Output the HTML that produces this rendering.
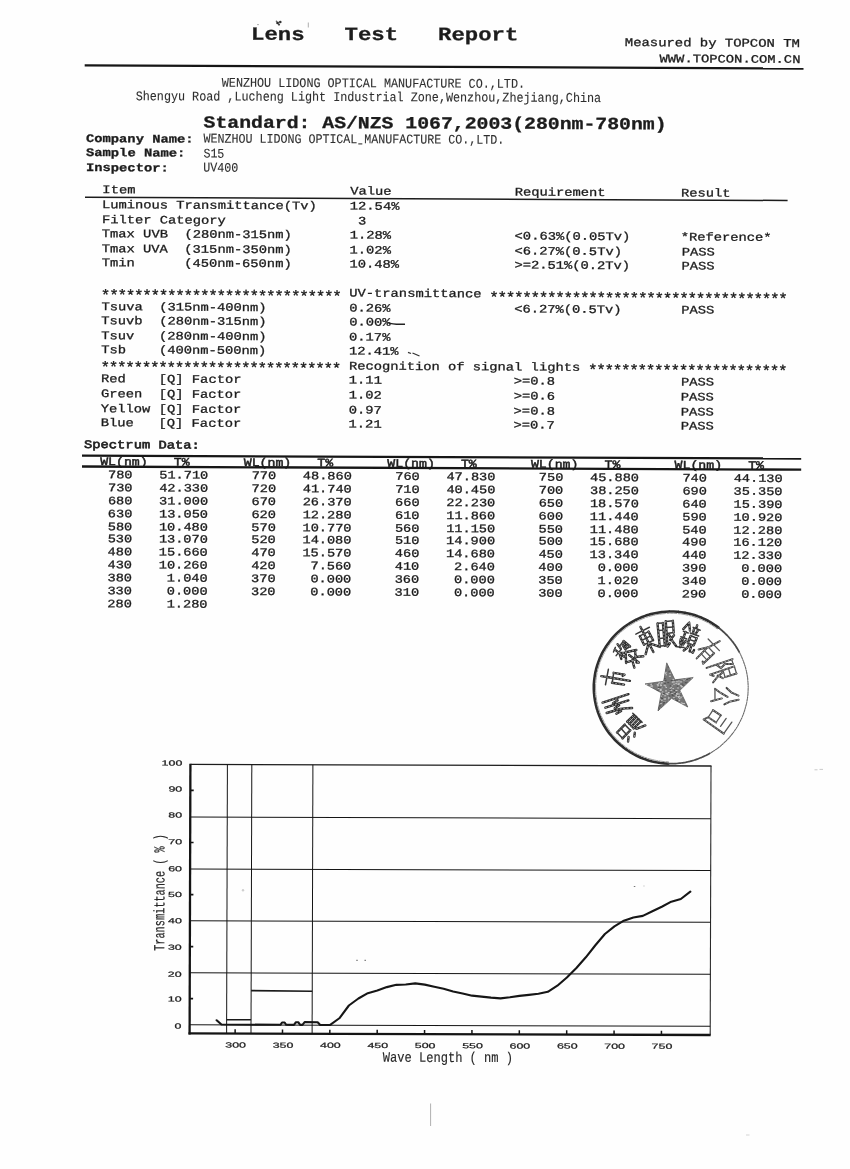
<!DOCTYPE html>
<html><head><meta charset="utf-8"><title>Lens Test Report</title>
<style>
html,body{margin:0;padding:0}
body{width:850px;height:1169px;position:relative;overflow:hidden;background:#fefefe;font-family:"Liberation Mono",monospace;color:#1c1c1c}
#page{position:absolute;left:0;top:0;width:850px;height:1169px;transform:rotate(0.0057rad);transform-origin:100.0px 400.0px}
.t{position:absolute;white-space:pre;line-height:20.0px;font-family:"Liberation Mono",monospace;-webkit-text-stroke:0.35px #1c1c1c}
svg{position:absolute;left:0;top:0}
#all{position:absolute;left:0;top:0;width:850px;height:1169px;filter:grayscale(1) blur(0.35px)}
#chartwrap{position:absolute;left:0;top:0;width:850px;height:1169px;transform:rotate(0.003rad);transform-origin:450px 900px}
</style></head><body>
<div id="all">
<div id="page">
<div class="t" style="left:248.52px;top:23.21px;font-size:22.27px;transform:rotate(-0.0042rad) scale(1.0,0.84);transform-origin:0 15.93px;font-weight:bold;">Lens   Test   Report</div>
<div class="t" style="left:622.80px;top:28.81px;font-size:13.9px;transform:scale(1.0,0.84);transform-origin:0 13.70px;">Measured by TOPCON TM</div>
<div class="t" style="left:657.58px;top:45.43px;font-size:13.82px;transform:scale(1.0,0.84);transform-origin:0 13.68px;">WWW.TOPCON.COM.CN</div>
<div class="t" style="left:219.82px;top:73.38px;font-size:11.75px;transform:rotate(-0.0018rad) scale(1.0,1.13);transform-origin:0 13.13px;-webkit-text-stroke:0.1px #2e2e2e;color:#2e2e2e;">WENZHOU LIDONG OPTICAL MANUFACTURE CO.,LTD.</div>
<div class="t" style="left:134.39px;top:86.86px;font-size:11.75px;transform:rotate(-0.0018rad) scale(1.0,1.13);transform-origin:0 13.13px;-webkit-text-stroke:0.1px #2e2e2e;color:#2e2e2e;">Shengyu Road ,Lucheng Light Industrial Zone,Wenzhou,Zhejiang,China</div>
<div class="t" style="left:201.56px;top:112.34px;font-size:19.8px;transform:rotate(-0.002rad) scale(1.0,0.86);transform-origin:0 15.27px;font-weight:bold;">Standard: AS/NZS 1067,2003(280nm-780nm)</div>
<div class="t" style="left:84.60px;top:128.71px;font-size:13.77px;transform:scale(1.0,0.84);transform-origin:0 13.66px;font-weight:bold;">Company Name:</div>
<div class="t" style="left:84.69px;top:143.41px;font-size:13.77px;transform:scale(1.0,0.84);transform-origin:0 13.66px;font-weight:bold;">Sample Name:</div>
<div class="t" style="left:84.77px;top:157.61px;font-size:13.77px;transform:scale(1.0,0.84);transform-origin:0 13.66px;font-weight:bold;">Inspector:</div>
<div class="t" style="left:202.33px;top:129.00px;font-size:11.67px;transform:rotate(-0.0018rad) scale(1.0,1.13);transform-origin:0 13.11px;-webkit-text-stroke:0.1px #2e2e2e;color:#2e2e2e;">WENZHOU LIDONG OPTICAL MANUFACTURE CO.,LTD.</div>
<div class="t" style="left:202.12px;top:143.90px;font-size:11.67px;transform:rotate(-0.0018rad) scale(1.0,1.13);transform-origin:0 13.11px;-webkit-text-stroke:0.1px #2e2e2e;color:#2e2e2e;">S15</div>
<div class="t" style="left:202.00px;top:158.30px;font-size:11.67px;transform:rotate(-0.0018rad) scale(1.0,1.13);transform-origin:0 13.11px;-webkit-text-stroke:0.1px #2e2e2e;color:#2e2e2e;">UV400</div>
<div class="t" style="left:101.20px;top:180.14px;font-size:13.77px;transform:scale(1.0,0.84);transform-origin:0 13.66px;">Item</div>
<div class="t" style="left:348.96px;top:180.14px;font-size:13.77px;transform:scale(1.0,0.84);transform-origin:0 13.66px;">Value</div>
<div class="t" style="left:513.60px;top:180.14px;font-size:13.77px;transform:scale(1.0,0.84);transform-origin:0 13.66px;">Requirement</div>
<div class="t" style="left:679.84px;top:180.14px;font-size:13.77px;transform:scale(1.0,0.84);transform-origin:0 13.66px;">Result</div>
<div class="t" style="left:100.90px;top:195.24px;font-size:13.77px;transform:scale(1.0,0.84);transform-origin:0 13.66px;">Luminous Transmittance(Tv)</div>
<div class="t" style="left:348.76px;top:195.24px;font-size:13.77px;transform:scale(1.0,0.84);transform-origin:0 13.66px;">12.54%</div>
<div class="t" style="left:100.90px;top:209.76px;font-size:13.77px;transform:scale(1.0,0.84);transform-origin:0 13.66px;">Filter Category</div>
<div class="t" style="left:348.76px;top:209.76px;font-size:13.77px;transform:scale(1.0,0.84);transform-origin:0 13.66px;"> 3</div>
<div class="t" style="left:100.90px;top:224.28px;font-size:13.77px;transform:scale(1.0,0.84);transform-origin:0 13.66px;">Tmax UVB  (280nm-315nm)</div>
<div class="t" style="left:348.76px;top:224.28px;font-size:13.77px;transform:scale(1.0,0.84);transform-origin:0 13.66px;">1.28%</div>
<div class="t" style="left:513.70px;top:224.28px;font-size:13.77px;transform:scale(1.0,0.84);transform-origin:0 13.66px;">&lt;0.63%(0.05Tv)</div>
<div class="t" style="left:679.84px;top:224.28px;font-size:13.77px;transform:scale(1.0,0.84);transform-origin:0 13.66px;">*Reference*</div>
<div class="t" style="left:100.90px;top:238.80px;font-size:13.77px;transform:scale(1.0,0.84);transform-origin:0 13.66px;">Tmax UVA  (315nm-350nm)</div>
<div class="t" style="left:348.76px;top:238.80px;font-size:13.77px;transform:scale(1.0,0.84);transform-origin:0 13.66px;">1.02%</div>
<div class="t" style="left:513.70px;top:238.80px;font-size:13.77px;transform:scale(1.0,0.84);transform-origin:0 13.66px;">&lt;6.27%(0.5Tv)</div>
<div class="t" style="left:680.84px;top:238.80px;font-size:13.77px;transform:scale(1.0,0.84);transform-origin:0 13.66px;">PASS</div>
<div class="t" style="left:100.90px;top:253.32px;font-size:13.77px;transform:scale(1.0,0.84);transform-origin:0 13.66px;">Tmin      (450nm-650nm)</div>
<div class="t" style="left:348.76px;top:253.32px;font-size:13.77px;transform:scale(1.0,0.84);transform-origin:0 13.66px;">10.48%</div>
<div class="t" style="left:513.70px;top:253.32px;font-size:13.77px;transform:scale(1.0,0.84);transform-origin:0 13.66px;">&gt;=2.51%(0.2Tv)</div>
<div class="t" style="left:680.84px;top:253.32px;font-size:13.77px;transform:scale(1.0,0.84);transform-origin:0 13.66px;">PASS</div>
<div class="t" style="left:100.90px;top:282.36px;font-size:13.77px;transform:scale(1.0,0.84);transform-origin:0 13.66px;">                              UV-transmittance </div>
<div class="t" style="left:100.90px;top:296.88px;font-size:13.77px;transform:scale(1.0,0.84);transform-origin:0 13.66px;">Tsuva  (315nm-400nm)</div>
<div class="t" style="left:348.76px;top:296.88px;font-size:13.77px;transform:scale(1.0,0.84);transform-origin:0 13.66px;">0.26%</div>
<div class="t" style="left:513.70px;top:296.88px;font-size:13.77px;transform:scale(1.0,0.84);transform-origin:0 13.66px;">&lt;6.27%(0.5Tv)</div>
<div class="t" style="left:680.84px;top:296.88px;font-size:13.77px;transform:scale(1.0,0.84);transform-origin:0 13.66px;">PASS</div>
<div class="t" style="left:100.90px;top:311.40px;font-size:13.77px;transform:scale(1.0,0.84);transform-origin:0 13.66px;">Tsuvb  (280nm-315nm)</div>
<div class="t" style="left:348.76px;top:311.40px;font-size:13.77px;transform:scale(1.0,0.84);transform-origin:0 13.66px;">0.00%</div>
<div class="t" style="left:100.90px;top:325.92px;font-size:13.77px;transform:scale(1.0,0.84);transform-origin:0 13.66px;">Tsuv   (280nm-400nm)</div>
<div class="t" style="left:348.76px;top:325.92px;font-size:13.77px;transform:scale(1.0,0.84);transform-origin:0 13.66px;">0.17%</div>
<div class="t" style="left:100.90px;top:340.44px;font-size:13.77px;transform:scale(1.0,0.84);transform-origin:0 13.66px;">Tsb    (400nm-500nm)</div>
<div class="t" style="left:348.76px;top:340.44px;font-size:13.77px;transform:scale(1.0,0.84);transform-origin:0 13.66px;">12.41%</div>
<div class="t" style="left:100.90px;top:354.96px;font-size:13.77px;transform:scale(1.0,0.84);transform-origin:0 13.66px;">                              Recognition of signal lights </div>
<div class="t" style="left:100.90px;top:369.48px;font-size:13.77px;transform:scale(1.0,0.84);transform-origin:0 13.66px;">Red    [Q] Factor</div>
<div class="t" style="left:348.76px;top:369.48px;font-size:13.77px;transform:scale(1.0,0.84);transform-origin:0 13.66px;">1.11</div>
<div class="t" style="left:513.70px;top:369.48px;font-size:13.77px;transform:scale(1.0,0.84);transform-origin:0 13.66px;">&gt;=0.8</div>
<div class="t" style="left:680.84px;top:369.48px;font-size:13.77px;transform:scale(1.0,0.84);transform-origin:0 13.66px;">PASS</div>
<div class="t" style="left:100.90px;top:384.00px;font-size:13.77px;transform:scale(1.0,0.84);transform-origin:0 13.66px;">Green  [Q] Factor</div>
<div class="t" style="left:348.76px;top:384.00px;font-size:13.77px;transform:scale(1.0,0.84);transform-origin:0 13.66px;">1.02</div>
<div class="t" style="left:513.70px;top:384.00px;font-size:13.77px;transform:scale(1.0,0.84);transform-origin:0 13.66px;">&gt;=0.6</div>
<div class="t" style="left:680.84px;top:384.00px;font-size:13.77px;transform:scale(1.0,0.84);transform-origin:0 13.66px;">PASS</div>
<div class="t" style="left:100.90px;top:398.52px;font-size:13.77px;transform:scale(1.0,0.84);transform-origin:0 13.66px;">Yellow [Q] Factor</div>
<div class="t" style="left:348.76px;top:398.52px;font-size:13.77px;transform:scale(1.0,0.84);transform-origin:0 13.66px;">0.97</div>
<div class="t" style="left:513.70px;top:398.52px;font-size:13.77px;transform:scale(1.0,0.84);transform-origin:0 13.66px;">&gt;=0.8</div>
<div class="t" style="left:680.84px;top:398.52px;font-size:13.77px;transform:scale(1.0,0.84);transform-origin:0 13.66px;">PASS</div>
<div class="t" style="left:100.90px;top:413.04px;font-size:13.77px;transform:scale(1.0,0.84);transform-origin:0 13.66px;">Blue   [Q] Factor</div>
<div class="t" style="left:348.76px;top:413.04px;font-size:13.77px;transform:scale(1.0,0.84);transform-origin:0 13.66px;">1.21</div>
<div class="t" style="left:513.70px;top:413.04px;font-size:13.77px;transform:scale(1.0,0.84);transform-origin:0 13.66px;">&gt;=0.7</div>
<div class="t" style="left:680.84px;top:413.04px;font-size:13.77px;transform:scale(1.0,0.84);transform-origin:0 13.66px;">PASS</div>
<div class="t" style="left:100.30px;top:285.82px;font-size:15.8px;transform:scale(1.0,0.955);transform-origin:0 14.20px;letter-spacing:-1.218px;">*****************************</div>
<div class="t" style="left:488.61px;top:285.82px;font-size:15.8px;transform:scale(1.0,0.955);transform-origin:0 14.20px;letter-spacing:-1.218px;">************************************</div>
<div class="t" style="left:100.30px;top:358.42px;font-size:15.8px;transform:scale(1.0,0.955);transform-origin:0 14.20px;letter-spacing:-1.218px;">*****************************</div>
<div class="t" style="left:587.76px;top:358.42px;font-size:15.8px;transform:scale(1.0,0.955);transform-origin:0 14.20px;letter-spacing:-1.218px;">************************</div>
<div class="t" style="left:84.35px;top:434.72px;font-size:13.77px;transform:scale(1.0,0.84);transform-origin:0 13.66px;-webkit-text-stroke:0.7px #1c1c1c;">Spectrum Data:</div>
<div class="t" style="left:100.54px;top:451.79px;font-size:13.2px;transform:scale(1.0,0.86);transform-origin:0 13.51px;-webkit-text-stroke:0.55px #1c1c1c;">WL(nm)</div>
<div class="t" style="left:174.14px;top:451.79px;font-size:13.2px;transform:scale(1.0,0.86);transform-origin:0 13.51px;-webkit-text-stroke:0.55px #1c1c1c;">T%</div>
<div class="t" style="left:244.14px;top:451.79px;font-size:13.2px;transform:scale(1.0,0.86);transform-origin:0 13.51px;-webkit-text-stroke:0.55px #1c1c1c;">WL(nm)</div>
<div class="t" style="left:317.74px;top:451.79px;font-size:13.2px;transform:scale(1.0,0.86);transform-origin:0 13.51px;-webkit-text-stroke:0.55px #1c1c1c;">T%</div>
<div class="t" style="left:387.74px;top:451.79px;font-size:13.2px;transform:scale(1.0,0.86);transform-origin:0 13.51px;-webkit-text-stroke:0.55px #1c1c1c;">WL(nm)</div>
<div class="t" style="left:461.34px;top:451.79px;font-size:13.2px;transform:scale(1.0,0.86);transform-origin:0 13.51px;-webkit-text-stroke:0.55px #1c1c1c;">T%</div>
<div class="t" style="left:531.34px;top:451.79px;font-size:13.2px;transform:scale(1.0,0.86);transform-origin:0 13.51px;-webkit-text-stroke:0.55px #1c1c1c;">WL(nm)</div>
<div class="t" style="left:604.94px;top:451.79px;font-size:13.2px;transform:scale(1.0,0.86);transform-origin:0 13.51px;-webkit-text-stroke:0.55px #1c1c1c;">T%</div>
<div class="t" style="left:674.94px;top:451.79px;font-size:13.2px;transform:scale(1.0,0.86);transform-origin:0 13.51px;-webkit-text-stroke:0.55px #1c1c1c;">WL(nm)</div>
<div class="t" style="left:748.54px;top:451.79px;font-size:13.2px;transform:scale(1.0,0.86);transform-origin:0 13.51px;-webkit-text-stroke:0.55px #1c1c1c;">T%</div>
<div class="t" style="left:108.51px;top:465.08px;font-size:13.6px;transform:scale(1.0,0.84);transform-origin:0 13.62px;">780</div>
<div class="t" style="left:159.71px;top:465.08px;font-size:13.6px;transform:scale(1.0,0.84);transform-origin:0 13.62px;">51.710</div>
<div class="t" style="left:252.11px;top:465.08px;font-size:13.6px;transform:scale(1.0,0.84);transform-origin:0 13.62px;">770</div>
<div class="t" style="left:303.31px;top:465.08px;font-size:13.6px;transform:scale(1.0,0.84);transform-origin:0 13.62px;">48.860</div>
<div class="t" style="left:395.71px;top:465.08px;font-size:13.6px;transform:scale(1.0,0.84);transform-origin:0 13.62px;">760</div>
<div class="t" style="left:446.91px;top:465.08px;font-size:13.6px;transform:scale(1.0,0.84);transform-origin:0 13.62px;">47.830</div>
<div class="t" style="left:539.31px;top:465.08px;font-size:13.6px;transform:scale(1.0,0.84);transform-origin:0 13.62px;">750</div>
<div class="t" style="left:590.51px;top:465.08px;font-size:13.6px;transform:scale(1.0,0.84);transform-origin:0 13.62px;">45.880</div>
<div class="t" style="left:682.91px;top:465.08px;font-size:13.6px;transform:scale(1.0,0.84);transform-origin:0 13.62px;">740</div>
<div class="t" style="left:734.11px;top:465.08px;font-size:13.6px;transform:scale(1.0,0.84);transform-origin:0 13.62px;">44.130</div>
<div class="t" style="left:108.51px;top:477.96px;font-size:13.6px;transform:scale(1.0,0.84);transform-origin:0 13.62px;">730</div>
<div class="t" style="left:159.71px;top:477.96px;font-size:13.6px;transform:scale(1.0,0.84);transform-origin:0 13.62px;">42.330</div>
<div class="t" style="left:252.11px;top:477.96px;font-size:13.6px;transform:scale(1.0,0.84);transform-origin:0 13.62px;">720</div>
<div class="t" style="left:303.31px;top:477.96px;font-size:13.6px;transform:scale(1.0,0.84);transform-origin:0 13.62px;">41.740</div>
<div class="t" style="left:395.71px;top:477.96px;font-size:13.6px;transform:scale(1.0,0.84);transform-origin:0 13.62px;">710</div>
<div class="t" style="left:446.91px;top:477.96px;font-size:13.6px;transform:scale(1.0,0.84);transform-origin:0 13.62px;">40.450</div>
<div class="t" style="left:539.31px;top:477.96px;font-size:13.6px;transform:scale(1.0,0.84);transform-origin:0 13.62px;">700</div>
<div class="t" style="left:590.51px;top:477.96px;font-size:13.6px;transform:scale(1.0,0.84);transform-origin:0 13.62px;">38.250</div>
<div class="t" style="left:682.91px;top:477.96px;font-size:13.6px;transform:scale(1.0,0.84);transform-origin:0 13.62px;">690</div>
<div class="t" style="left:734.11px;top:477.96px;font-size:13.6px;transform:scale(1.0,0.84);transform-origin:0 13.62px;">35.350</div>
<div class="t" style="left:108.51px;top:490.84px;font-size:13.6px;transform:scale(1.0,0.84);transform-origin:0 13.62px;">680</div>
<div class="t" style="left:159.71px;top:490.84px;font-size:13.6px;transform:scale(1.0,0.84);transform-origin:0 13.62px;">31.000</div>
<div class="t" style="left:252.11px;top:490.84px;font-size:13.6px;transform:scale(1.0,0.84);transform-origin:0 13.62px;">670</div>
<div class="t" style="left:303.31px;top:490.84px;font-size:13.6px;transform:scale(1.0,0.84);transform-origin:0 13.62px;">26.370</div>
<div class="t" style="left:395.71px;top:490.84px;font-size:13.6px;transform:scale(1.0,0.84);transform-origin:0 13.62px;">660</div>
<div class="t" style="left:446.91px;top:490.84px;font-size:13.6px;transform:scale(1.0,0.84);transform-origin:0 13.62px;">22.230</div>
<div class="t" style="left:539.31px;top:490.84px;font-size:13.6px;transform:scale(1.0,0.84);transform-origin:0 13.62px;">650</div>
<div class="t" style="left:590.51px;top:490.84px;font-size:13.6px;transform:scale(1.0,0.84);transform-origin:0 13.62px;">18.570</div>
<div class="t" style="left:682.91px;top:490.84px;font-size:13.6px;transform:scale(1.0,0.84);transform-origin:0 13.62px;">640</div>
<div class="t" style="left:734.11px;top:490.84px;font-size:13.6px;transform:scale(1.0,0.84);transform-origin:0 13.62px;">15.390</div>
<div class="t" style="left:108.51px;top:503.72px;font-size:13.6px;transform:scale(1.0,0.84);transform-origin:0 13.62px;">630</div>
<div class="t" style="left:159.71px;top:503.72px;font-size:13.6px;transform:scale(1.0,0.84);transform-origin:0 13.62px;">13.050</div>
<div class="t" style="left:252.11px;top:503.72px;font-size:13.6px;transform:scale(1.0,0.84);transform-origin:0 13.62px;">620</div>
<div class="t" style="left:303.31px;top:503.72px;font-size:13.6px;transform:scale(1.0,0.84);transform-origin:0 13.62px;">12.280</div>
<div class="t" style="left:395.71px;top:503.72px;font-size:13.6px;transform:scale(1.0,0.84);transform-origin:0 13.62px;">610</div>
<div class="t" style="left:446.91px;top:503.72px;font-size:13.6px;transform:scale(1.0,0.84);transform-origin:0 13.62px;">11.860</div>
<div class="t" style="left:539.31px;top:503.72px;font-size:13.6px;transform:scale(1.0,0.84);transform-origin:0 13.62px;">600</div>
<div class="t" style="left:590.51px;top:503.72px;font-size:13.6px;transform:scale(1.0,0.84);transform-origin:0 13.62px;">11.440</div>
<div class="t" style="left:682.91px;top:503.72px;font-size:13.6px;transform:scale(1.0,0.84);transform-origin:0 13.62px;">590</div>
<div class="t" style="left:734.11px;top:503.72px;font-size:13.6px;transform:scale(1.0,0.84);transform-origin:0 13.62px;">10.920</div>
<div class="t" style="left:108.51px;top:516.60px;font-size:13.6px;transform:scale(1.0,0.84);transform-origin:0 13.62px;">580</div>
<div class="t" style="left:159.71px;top:516.60px;font-size:13.6px;transform:scale(1.0,0.84);transform-origin:0 13.62px;">10.480</div>
<div class="t" style="left:252.11px;top:516.60px;font-size:13.6px;transform:scale(1.0,0.84);transform-origin:0 13.62px;">570</div>
<div class="t" style="left:303.31px;top:516.60px;font-size:13.6px;transform:scale(1.0,0.84);transform-origin:0 13.62px;">10.770</div>
<div class="t" style="left:395.71px;top:516.60px;font-size:13.6px;transform:scale(1.0,0.84);transform-origin:0 13.62px;">560</div>
<div class="t" style="left:446.91px;top:516.60px;font-size:13.6px;transform:scale(1.0,0.84);transform-origin:0 13.62px;">11.150</div>
<div class="t" style="left:539.31px;top:516.60px;font-size:13.6px;transform:scale(1.0,0.84);transform-origin:0 13.62px;">550</div>
<div class="t" style="left:590.51px;top:516.60px;font-size:13.6px;transform:scale(1.0,0.84);transform-origin:0 13.62px;">11.480</div>
<div class="t" style="left:682.91px;top:516.60px;font-size:13.6px;transform:scale(1.0,0.84);transform-origin:0 13.62px;">540</div>
<div class="t" style="left:734.11px;top:516.60px;font-size:13.6px;transform:scale(1.0,0.84);transform-origin:0 13.62px;">12.280</div>
<div class="t" style="left:108.51px;top:529.48px;font-size:13.6px;transform:scale(1.0,0.84);transform-origin:0 13.62px;">530</div>
<div class="t" style="left:159.71px;top:529.48px;font-size:13.6px;transform:scale(1.0,0.84);transform-origin:0 13.62px;">13.070</div>
<div class="t" style="left:252.11px;top:529.48px;font-size:13.6px;transform:scale(1.0,0.84);transform-origin:0 13.62px;">520</div>
<div class="t" style="left:303.31px;top:529.48px;font-size:13.6px;transform:scale(1.0,0.84);transform-origin:0 13.62px;">14.080</div>
<div class="t" style="left:395.71px;top:529.48px;font-size:13.6px;transform:scale(1.0,0.84);transform-origin:0 13.62px;">510</div>
<div class="t" style="left:446.91px;top:529.48px;font-size:13.6px;transform:scale(1.0,0.84);transform-origin:0 13.62px;">14.900</div>
<div class="t" style="left:539.31px;top:529.48px;font-size:13.6px;transform:scale(1.0,0.84);transform-origin:0 13.62px;">500</div>
<div class="t" style="left:590.51px;top:529.48px;font-size:13.6px;transform:scale(1.0,0.84);transform-origin:0 13.62px;">15.680</div>
<div class="t" style="left:682.91px;top:529.48px;font-size:13.6px;transform:scale(1.0,0.84);transform-origin:0 13.62px;">490</div>
<div class="t" style="left:734.11px;top:529.48px;font-size:13.6px;transform:scale(1.0,0.84);transform-origin:0 13.62px;">16.120</div>
<div class="t" style="left:108.51px;top:542.36px;font-size:13.6px;transform:scale(1.0,0.84);transform-origin:0 13.62px;">480</div>
<div class="t" style="left:159.71px;top:542.36px;font-size:13.6px;transform:scale(1.0,0.84);transform-origin:0 13.62px;">15.660</div>
<div class="t" style="left:252.11px;top:542.36px;font-size:13.6px;transform:scale(1.0,0.84);transform-origin:0 13.62px;">470</div>
<div class="t" style="left:303.31px;top:542.36px;font-size:13.6px;transform:scale(1.0,0.84);transform-origin:0 13.62px;">15.570</div>
<div class="t" style="left:395.71px;top:542.36px;font-size:13.6px;transform:scale(1.0,0.84);transform-origin:0 13.62px;">460</div>
<div class="t" style="left:446.91px;top:542.36px;font-size:13.6px;transform:scale(1.0,0.84);transform-origin:0 13.62px;">14.680</div>
<div class="t" style="left:539.31px;top:542.36px;font-size:13.6px;transform:scale(1.0,0.84);transform-origin:0 13.62px;">450</div>
<div class="t" style="left:590.51px;top:542.36px;font-size:13.6px;transform:scale(1.0,0.84);transform-origin:0 13.62px;">13.340</div>
<div class="t" style="left:682.91px;top:542.36px;font-size:13.6px;transform:scale(1.0,0.84);transform-origin:0 13.62px;">440</div>
<div class="t" style="left:734.11px;top:542.36px;font-size:13.6px;transform:scale(1.0,0.84);transform-origin:0 13.62px;">12.330</div>
<div class="t" style="left:108.51px;top:555.24px;font-size:13.6px;transform:scale(1.0,0.84);transform-origin:0 13.62px;">430</div>
<div class="t" style="left:159.71px;top:555.24px;font-size:13.6px;transform:scale(1.0,0.84);transform-origin:0 13.62px;">10.260</div>
<div class="t" style="left:252.11px;top:555.24px;font-size:13.6px;transform:scale(1.0,0.84);transform-origin:0 13.62px;">420</div>
<div class="t" style="left:303.31px;top:555.24px;font-size:13.6px;transform:scale(1.0,0.84);transform-origin:0 13.62px;"> 7.560</div>
<div class="t" style="left:395.71px;top:555.24px;font-size:13.6px;transform:scale(1.0,0.84);transform-origin:0 13.62px;">410</div>
<div class="t" style="left:446.91px;top:555.24px;font-size:13.6px;transform:scale(1.0,0.84);transform-origin:0 13.62px;"> 2.640</div>
<div class="t" style="left:539.31px;top:555.24px;font-size:13.6px;transform:scale(1.0,0.84);transform-origin:0 13.62px;">400</div>
<div class="t" style="left:590.51px;top:555.24px;font-size:13.6px;transform:scale(1.0,0.84);transform-origin:0 13.62px;"> 0.000</div>
<div class="t" style="left:682.91px;top:555.24px;font-size:13.6px;transform:scale(1.0,0.84);transform-origin:0 13.62px;">390</div>
<div class="t" style="left:734.11px;top:555.24px;font-size:13.6px;transform:scale(1.0,0.84);transform-origin:0 13.62px;"> 0.000</div>
<div class="t" style="left:108.51px;top:568.12px;font-size:13.6px;transform:scale(1.0,0.84);transform-origin:0 13.62px;">380</div>
<div class="t" style="left:159.71px;top:568.12px;font-size:13.6px;transform:scale(1.0,0.84);transform-origin:0 13.62px;"> 1.040</div>
<div class="t" style="left:252.11px;top:568.12px;font-size:13.6px;transform:scale(1.0,0.84);transform-origin:0 13.62px;">370</div>
<div class="t" style="left:303.31px;top:568.12px;font-size:13.6px;transform:scale(1.0,0.84);transform-origin:0 13.62px;"> 0.000</div>
<div class="t" style="left:395.71px;top:568.12px;font-size:13.6px;transform:scale(1.0,0.84);transform-origin:0 13.62px;">360</div>
<div class="t" style="left:446.91px;top:568.12px;font-size:13.6px;transform:scale(1.0,0.84);transform-origin:0 13.62px;"> 0.000</div>
<div class="t" style="left:539.31px;top:568.12px;font-size:13.6px;transform:scale(1.0,0.84);transform-origin:0 13.62px;">350</div>
<div class="t" style="left:590.51px;top:568.12px;font-size:13.6px;transform:scale(1.0,0.84);transform-origin:0 13.62px;"> 1.020</div>
<div class="t" style="left:682.91px;top:568.12px;font-size:13.6px;transform:scale(1.0,0.84);transform-origin:0 13.62px;">340</div>
<div class="t" style="left:734.11px;top:568.12px;font-size:13.6px;transform:scale(1.0,0.84);transform-origin:0 13.62px;"> 0.000</div>
<div class="t" style="left:108.51px;top:581.00px;font-size:13.6px;transform:scale(1.0,0.84);transform-origin:0 13.62px;">330</div>
<div class="t" style="left:159.71px;top:581.00px;font-size:13.6px;transform:scale(1.0,0.84);transform-origin:0 13.62px;"> 0.000</div>
<div class="t" style="left:252.11px;top:581.00px;font-size:13.6px;transform:scale(1.0,0.84);transform-origin:0 13.62px;">320</div>
<div class="t" style="left:303.31px;top:581.00px;font-size:13.6px;transform:scale(1.0,0.84);transform-origin:0 13.62px;"> 0.000</div>
<div class="t" style="left:395.71px;top:581.00px;font-size:13.6px;transform:scale(1.0,0.84);transform-origin:0 13.62px;">310</div>
<div class="t" style="left:446.91px;top:581.00px;font-size:13.6px;transform:scale(1.0,0.84);transform-origin:0 13.62px;"> 0.000</div>
<div class="t" style="left:539.31px;top:581.00px;font-size:13.6px;transform:scale(1.0,0.84);transform-origin:0 13.62px;">300</div>
<div class="t" style="left:590.51px;top:581.00px;font-size:13.6px;transform:scale(1.0,0.84);transform-origin:0 13.62px;"> 0.000</div>
<div class="t" style="left:682.91px;top:581.00px;font-size:13.6px;transform:scale(1.0,0.84);transform-origin:0 13.62px;">290</div>
<div class="t" style="left:734.11px;top:581.00px;font-size:13.6px;transform:scale(1.0,0.84);transform-origin:0 13.62px;"> 0.000</div>
<div class="t" style="left:108.51px;top:593.88px;font-size:13.6px;transform:scale(1.0,0.84);transform-origin:0 13.62px;">280</div>
<div class="t" style="left:159.71px;top:593.88px;font-size:13.6px;transform:scale(1.0,0.84);transform-origin:0 13.62px;"> 1.280</div>
</div>
<svg width="850" height="1169" viewBox="0 0 850 1169">

<line x1="84.7" y1="65.3" x2="803.5" y2="68.5" stroke="#161616" stroke-width="2.3"/>
<line x1="85" y1="197.3" x2="787.6" y2="200.5" stroke="#1c1c1c" stroke-width="1.5"/>
<line x1="82" y1="455.6" x2="801.2" y2="458.5" stroke="#161616" stroke-width="2.3"/>
<line x1="82" y1="466.5" x2="801.2" y2="469.7" stroke="#161616" stroke-width="2.3"/>
<path d="M387.5 322.6 q6 2.2 17.5 1.6" stroke="#222" stroke-width="1.5" fill="none"/>
<path d="M408 352.3 l3 1.2 M412.5 353 l7 3" stroke="#333" stroke-width="1.3" fill="none"/>
<path d="M358.3 143.9 h4.0" stroke="#333" stroke-width="1.1" fill="none"/>
<circle cx="277.6" cy="22.9" r="1.4" fill="#2a2a2a"/><circle cx="280.3" cy="22.0" r="1.3" fill="#333"/><circle cx="279.0" cy="24.6" r="1.1" fill="#444"/><circle cx="276.4" cy="21.2" r="0.7" fill="#555"/>
<circle cx="258" cy="24.6" r="0.6" fill="#666"/>
<path d="M430.6 1103.5 V1126" stroke="#b0b0b0" stroke-width="1"/>
<path d="M814.5 769.8 h3 m2 -0.4 h3.5" stroke="#c4c4c4" stroke-width="0.9"/>
<path d="M746 1135 h3.5" stroke="#d0d0d0" stroke-width="0.9"/>
<path d="M356.3 960.4 h1.4 m6.8 0 h1.4 M633.8 886.5 h1.5" stroke="#777" stroke-width="1.2"/><path d="M643.2 886 h1.5" stroke="#ccc" stroke-width="1.2"/>
<circle cx="243" cy="890.3" r="1.2" fill="#cfcfcf"/>
<path d="M308.3 22.5 v5" stroke="#999" stroke-width="0.8"/>

</svg>
<div id="chartwrap">
<svg width="850" height="1169" viewBox="0 0 850 1169">
<line x1="190.0" y1="764.6" x2="190.0" y2="1035.3" stroke="#141414" stroke-width="2.3"/>
<line x1="188.9" y1="1034.2" x2="711.1" y2="1034.2" stroke="#141414" stroke-width="2.4"/>
<line x1="190.0" y1="765.2" x2="711.1" y2="765.2" stroke="#1c1c1c" stroke-width="1.4"/>
<line x1="710.6" y1="765.2" x2="710.6" y2="1034.2" stroke="#2a2a2a" stroke-width="1.1"/>
<line x1="190.0" y1="1025.50" x2="710.6" y2="1025.50" stroke="#151515" stroke-width="1.0"/>
<line x1="190.0" y1="973.54" x2="710.6" y2="973.54" stroke="#151515" stroke-width="1.0"/>
<line x1="190.0" y1="921.58" x2="710.6" y2="921.58" stroke="#151515" stroke-width="1.0"/>
<line x1="190.0" y1="869.82" x2="710.6" y2="869.82" stroke="#151515" stroke-width="1.0"/>
<line x1="190.0" y1="817.86" x2="710.6" y2="817.86" stroke="#151515" stroke-width="1.0"/>
<line x1="190.0" y1="999.47" x2="193.4" y2="999.47" stroke="#141414" stroke-width="1.7"/>
<line x1="190.0" y1="947.41" x2="193.4" y2="947.41" stroke="#141414" stroke-width="1.7"/>
<line x1="190.0" y1="895.35" x2="193.4" y2="895.35" stroke="#141414" stroke-width="1.7"/>
<line x1="190.0" y1="843.29" x2="193.4" y2="843.29" stroke="#141414" stroke-width="1.7"/>
<line x1="190.0" y1="791.23" x2="193.4" y2="791.23" stroke="#141414" stroke-width="1.7"/>
<line x1="227.0" y1="765.2" x2="227.0" y2="1034.2" stroke="#151515" stroke-width="1.0"/>
<line x1="251.4" y1="765.2" x2="251.4" y2="1034.2" stroke="#151515" stroke-width="1.0"/>
<line x1="312.5" y1="765.2" x2="312.5" y2="1034.2" stroke="#151515" stroke-width="1.0"/>
<line x1="235.50" y1="1030.0" x2="235.50" y2="1034.2" stroke="#141414" stroke-width="1.5"/>
<line x1="282.87" y1="1030.0" x2="282.87" y2="1034.2" stroke="#141414" stroke-width="1.5"/>
<line x1="330.24" y1="1030.0" x2="330.24" y2="1034.2" stroke="#141414" stroke-width="1.5"/>
<line x1="377.61" y1="1030.0" x2="377.61" y2="1034.2" stroke="#141414" stroke-width="1.5"/>
<line x1="424.98" y1="1030.0" x2="424.98" y2="1034.2" stroke="#141414" stroke-width="1.5"/>
<line x1="472.35" y1="1030.0" x2="472.35" y2="1034.2" stroke="#141414" stroke-width="1.5"/>
<line x1="519.72" y1="1030.0" x2="519.72" y2="1034.2" stroke="#141414" stroke-width="1.5"/>
<line x1="567.09" y1="1030.0" x2="567.09" y2="1034.2" stroke="#141414" stroke-width="1.5"/>
<line x1="614.46" y1="1030.0" x2="614.46" y2="1034.2" stroke="#141414" stroke-width="1.5"/>
<line x1="661.83" y1="1030.0" x2="661.83" y2="1034.2" stroke="#141414" stroke-width="1.5"/>
<line x1="227" y1="1020.4" x2="251.4" y2="1020.4" stroke="#1a1a1a" stroke-width="1.6"/>
<line x1="251.4" y1="991.2" x2="312.5" y2="991.6" stroke="#1a1a1a" stroke-width="1.6"/>
<path d="M217.0 1021.0 L219.3 1023.0 L221.8 1025.2 L280.8 1025.3 L282.4 1023.0 L285.0 1023.0 L286.6 1025.3 L294.3 1025.3 L296.3 1022.7 L298.6 1022.7 L300.6 1025.3 L302.8 1025.3 L305.0 1022.6 L318.0 1022.6 L320.6 1025.4 L330.2 1025.4 L339.7 1018.6 L349.2 1005.8 L358.7 998.8 L368.1 993.4 L377.6 990.8 L387.1 987.3 L396.6 985.0 L406.0 984.7 L415.5 983.5 L425.0 984.7 L434.5 986.7 L443.9 988.8 L453.4 991.5 L462.9 993.5 L472.4 995.6 L481.8 996.5 L491.3 997.5 L500.8 998.2 L510.2 997.1 L519.7 995.7 L529.2 994.6 L538.7 993.5 L548.1 991.5 L557.6 985.4 L567.1 977.2 L576.6 967.6 L586.0 956.9 L595.5 944.8 L605.0 933.5 L614.5 925.9 L623.9 920.2 L633.4 916.9 L642.9 915.3 L652.4 910.6 L661.8 906.1 L671.3 901.0 L680.8 898.3 L690.3 890.9" fill="none" stroke="#161616" stroke-width="2.1" stroke-linejoin="round" stroke-linecap="round"/>
<text x="0" y="0" transform="translate(181.9 766.4) scale(1.68 1)" text-anchor="end" font-family="Liberation Sans, sans-serif" font-size="7.4" fill="#1e1e1e" stroke="#1e1e1e" stroke-width="0.22">100</text>
<text x="0" y="0" transform="translate(181.9 792.3) scale(1.68 1)" text-anchor="end" font-family="Liberation Sans, sans-serif" font-size="7.4" fill="#1e1e1e" stroke="#1e1e1e" stroke-width="0.22">90</text>
<text x="0" y="0" transform="translate(181.9 818.4) scale(1.68 1)" text-anchor="end" font-family="Liberation Sans, sans-serif" font-size="7.4" fill="#1e1e1e" stroke="#1e1e1e" stroke-width="0.22">80</text>
<text x="0" y="0" transform="translate(181.9 845.0) scale(1.68 1)" text-anchor="end" font-family="Liberation Sans, sans-serif" font-size="7.4" fill="#1e1e1e" stroke="#1e1e1e" stroke-width="0.22">70</text>
<text x="0" y="0" transform="translate(181.9 872.1) scale(1.68 1)" text-anchor="end" font-family="Liberation Sans, sans-serif" font-size="7.4" fill="#1e1e1e" stroke="#1e1e1e" stroke-width="0.22">60</text>
<text x="0" y="0" transform="translate(181.9 897.9) scale(1.68 1)" text-anchor="end" font-family="Liberation Sans, sans-serif" font-size="7.4" fill="#1e1e1e" stroke="#1e1e1e" stroke-width="0.22">50</text>
<text x="0" y="0" transform="translate(181.9 924.2) scale(1.68 1)" text-anchor="end" font-family="Liberation Sans, sans-serif" font-size="7.4" fill="#1e1e1e" stroke="#1e1e1e" stroke-width="0.22">40</text>
<text x="0" y="0" transform="translate(181.9 950.5) scale(1.68 1)" text-anchor="end" font-family="Liberation Sans, sans-serif" font-size="7.4" fill="#1e1e1e" stroke="#1e1e1e" stroke-width="0.22">30</text>
<text x="0" y="0" transform="translate(181.9 977.6) scale(1.68 1)" text-anchor="end" font-family="Liberation Sans, sans-serif" font-size="7.4" fill="#1e1e1e" stroke="#1e1e1e" stroke-width="0.22">20</text>
<text x="0" y="0" transform="translate(181.9 1002.3) scale(1.68 1)" text-anchor="end" font-family="Liberation Sans, sans-serif" font-size="7.4" fill="#1e1e1e" stroke="#1e1e1e" stroke-width="0.22">10</text>
<text x="0" y="0" transform="translate(181.9 1029.4) scale(1.68 1)" text-anchor="end" font-family="Liberation Sans, sans-serif" font-size="7.4" fill="#1e1e1e" stroke="#1e1e1e" stroke-width="0.22">0</text>
<text x="0" y="0" transform="translate(236.1 1048.2) scale(1.68 1)" text-anchor="middle" font-family="Liberation Sans, sans-serif" font-size="7.4" fill="#1e1e1e" stroke="#1e1e1e" stroke-width="0.22">300</text>
<text x="0" y="0" transform="translate(283.5 1048.2) scale(1.68 1)" text-anchor="middle" font-family="Liberation Sans, sans-serif" font-size="7.4" fill="#1e1e1e" stroke="#1e1e1e" stroke-width="0.22">350</text>
<text x="0" y="0" transform="translate(330.8 1048.2) scale(1.68 1)" text-anchor="middle" font-family="Liberation Sans, sans-serif" font-size="7.4" fill="#1e1e1e" stroke="#1e1e1e" stroke-width="0.22">400</text>
<text x="0" y="0" transform="translate(378.2 1048.2) scale(1.68 1)" text-anchor="middle" font-family="Liberation Sans, sans-serif" font-size="7.4" fill="#1e1e1e" stroke="#1e1e1e" stroke-width="0.22">450</text>
<text x="0" y="0" transform="translate(425.6 1048.2) scale(1.68 1)" text-anchor="middle" font-family="Liberation Sans, sans-serif" font-size="7.4" fill="#1e1e1e" stroke="#1e1e1e" stroke-width="0.22">500</text>
<text x="0" y="0" transform="translate(473.0 1048.2) scale(1.68 1)" text-anchor="middle" font-family="Liberation Sans, sans-serif" font-size="7.4" fill="#1e1e1e" stroke="#1e1e1e" stroke-width="0.22">550</text>
<text x="0" y="0" transform="translate(520.3 1048.2) scale(1.68 1)" text-anchor="middle" font-family="Liberation Sans, sans-serif" font-size="7.4" fill="#1e1e1e" stroke="#1e1e1e" stroke-width="0.22">600</text>
<text x="0" y="0" transform="translate(567.7 1048.2) scale(1.68 1)" text-anchor="middle" font-family="Liberation Sans, sans-serif" font-size="7.4" fill="#1e1e1e" stroke="#1e1e1e" stroke-width="0.22">650</text>
<text x="0" y="0" transform="translate(615.1 1048.2) scale(1.68 1)" text-anchor="middle" font-family="Liberation Sans, sans-serif" font-size="7.4" fill="#1e1e1e" stroke="#1e1e1e" stroke-width="0.22">700</text>
<text x="0" y="0" transform="translate(662.4 1048.2) scale(1.68 1)" text-anchor="middle" font-family="Liberation Sans, sans-serif" font-size="7.4" fill="#1e1e1e" stroke="#1e1e1e" stroke-width="0.22">750</text>
</svg>
<div class="t" style="left:383.24px;top:1048.79px;font-size:12.07px;transform:scale(1,1.2);transform-origin:0 13.21px;color:#262626;-webkit-text-stroke:0.12px #262626">Wave Length ( nm )</div>
<div class="t" style="left:163.5px;top:939.47px;font-size:10.25px;transform:rotate(-90deg) scale(1,1.5);transform-origin:0 12.73px;color:#262626;-webkit-text-stroke:0.12px #262626">Transmittance ( % )</div>
</div>
<svg width="850" height="1169" viewBox="0 0 850 1169">
<g id="stamp" fill="none" stroke-linecap="round" stroke-linejoin="round">
<path d="M668.3 763.7 L664.3 763.4 L660.3 763.0 L656.3 762.3 L652.3 761.4 L648.4 760.4 L644.6 759.1 L640.8 757.7 L637.2 756.0 L633.6 754.2 L630.1 752.1 L626.7 749.9 L623.5 747.6 L620.4 745.0 L617.4 742.3 L614.5 739.5 L611.9 736.5 L609.3 733.4 L607.0 730.2 L604.8 726.8 L602.8 723.3 L601.0 719.8 L599.4 716.1 L598.0 712.4 L596.8 708.6 L595.8 704.7 L595.0 700.8 L594.4 696.9 L594.0 692.9 L593.8 688.9 L593.8 684.9 L594.1 681.0 L594.6 677.0 L595.2 673.1 L596.1 669.2 L597.2 665.4 L598.5 661.6 L599.9 657.9 L601.6 654.2 L603.5 650.7 L605.5 647.3 L607.8 644.0 L610.2 640.7 L612.7 637.7 L615.5 634.7 L618.3 631.9 L621.4 629.3 L624.5 626.8 L627.8 624.5 L631.2 622.4 L634.8 620.4 L638.4 618.6 L642.1 617.0 L645.9 615.6 L649.7 614.4 L653.6 613.5 L657.6 612.7 L661.6 612.1 L665.6 611.7 L669.7 611.5 L673.7 611.5 L677.7 611.8 L681.7 612.2 L685.7 612.9 L689.7 613.8 L693.6 614.8 L697.4 616.1 L701.2 617.5 L704.8 619.2 L708.4 621.0 L711.9 623.1 L715.3 625.3 L718.5 627.6" stroke="#2e2e2e" stroke-width="2.6" stroke-dasharray="9 0.5 4 0.3 13 0.6 6 0.4"/>
<path d="M668.4 761.9 L664.4 761.6 L660.5 761.2 L656.6 760.5 L652.8 759.7 L649.0 758.7 L645.2 757.4 L641.5 756.0 L637.9 754.4 L634.4 752.6 L631.0 750.6 L627.8 748.5 L624.6 746.1 L621.5 743.7 L618.6 741.0 L615.9 738.3 L613.2 735.4 L610.8 732.3 L608.5 729.1 L606.4 725.9 L604.4 722.5 L602.7 719.0 L601.1 715.4 L599.7 711.8 L598.5 708.1 L597.5 704.3 L596.7 700.5 L596.2 696.7 L595.8 692.8 L595.6 688.9 L595.6 685.0 L595.9 681.1 L596.3 677.3 L597.0 673.4 L597.8 669.6 L598.9 665.9 L600.1 662.2 L601.6 658.6 L603.2 655.0 L605.1 651.6 L607.1 648.2 L609.2 645.0 L611.6 641.9 L614.1 638.9 L616.8 636.0 L619.6 633.3 L622.5 630.7 L625.6 628.3 L628.8 626.0 L632.2 623.9 L635.6 622.0 L639.1 620.3 L642.8 618.7 L646.5 617.3 L650.2 616.2 L654.0 615.2 L657.9 614.4 L661.8 613.9 L665.7 613.5 L669.7 613.3 L673.6 613.3 L677.6 613.6 L681.5 614.0 L685.4 614.7 L689.2 615.5 L693.0 616.5 L696.8 617.8 L700.5 619.2 L704.1 620.8 L707.6 622.6 L711.0 624.6 L714.2 626.7 L717.4 629.1" stroke="#888" stroke-width="0.8" stroke-dasharray="2 1.2 4 0.8 1.5 1.4"/>
<path d="M718.5 627.6 L721.6 630.2 L724.6 632.9 L727.5 635.7 L730.1 638.7 L732.7 641.8 L735.0 645.0 L737.2 648.4 L739.2 651.9" stroke="#484848" stroke-width="1.8" stroke-dasharray="3 0.6 2 0.8"/>
<path d="M739.2 651.9 L741.0 655.5 L742.6 659.2 L744.0 663.0 L745.3 666.8 L746.3 670.7 L747.1 674.7 L747.7 678.6 L748.0 682.7 L748.2 686.7 L748.1 690.7 L747.9 694.7 L747.4 698.7 L746.7 702.7 L745.7 706.6 L744.6 710.5 L743.3 714.3 L741.8 718.0 L740.0 721.7 L738.1 725.3 L736.0 728.7 L733.7 732.0 L731.2 735.2 L728.6 738.3 L725.8 741.2 L722.8 744.0 L719.7 746.7 L716.5 749.1 L713.1 751.4 L709.6 753.5" stroke="#6a6a6a" stroke-width="1.1" stroke-dasharray="2.2 1.1 1.2 0.9"/>
<path d="M709.6 753.5 L705.8 755.5 L701.9 757.3 L697.9 758.9 L693.8 760.3 L689.7 761.4 L685.5 762.4 L681.2 763.0 L676.9 763.5 L672.6 763.7 L668.3 763.7" stroke="#4a4a4a" stroke-width="1.7" stroke-dasharray="3 0.6 2 0.8"/>
<g transform="translate(671.0 687.6) rotate(-135.2) translate(0 -57.5)"><path d="M-7.5 -11.0L-4.7 -7.4 M-8.5 -3.1L-6.1 0.0 M-8.4 12.6L-6.5 8.2 M-6.5 8.2L-4.5 3.8 M6.7 -12.4L6.7 -1.3 M-1.2 -1.4L-1.3 -12.7 M-2.2 2.2L-2.4 11.9 M7.1 2.4L6.9 12.0 M0.7 2.3L0.9 12.1 M3.9 2.4L4.1 12.2" stroke="#2c2c2c" stroke-width="2.4"/><path d="M-1.7 -12.7L6.7 -12.4 M6.7 -1.3L-1.2 -1.4 M-1.7 -7.1L6.6 -6.7 M-2.4 2.4L7.1 2.3 M-4.0 12.5L9.1 12.4" stroke="#3a3a3a" stroke-width="1.5"/><path d="M-7.5 -11.0L-4.7 -7.4 M-8.5 -3.1L-6.1 0.0 M-8.4 12.6L-6.5 8.2 M-6.5 8.2L-4.5 3.8 M6.7 -12.4L6.7 -1.3 M-1.2 -1.4L-1.3 -12.7 M-2.2 2.2L-2.4 11.9 M7.1 2.4L6.9 12.0 M0.7 2.3L0.9 12.1 M3.9 2.4L4.1 12.2" stroke="#a8a8a8" stroke-width="0.8" stroke-dasharray="1.2 2.3"/></g>
<g transform="translate(671.0 687.6) rotate(-107.8) translate(0 -56.5)"><path d="M-4.5 -12.5L-4.8 1.5 M-4.8 1.5L-6.2 8.5 M-6.2 8.5L-7.6 13.2 M0.9 -12.1L0.8 12.0 M6.7 -13.2L6.8 14.0 M-8.2 -3.5L-6.9 1.9 M-2.5 -3.4L-0.9 1.7 M2.9 -3.5L4.2 1.8" stroke="#2c2c2c" stroke-width="2.4"/><path d="" stroke="#3a3a3a" stroke-width="1.5"/><path d="M-4.5 -12.5L-4.8 1.5 M-4.8 1.5L-6.2 8.5 M-6.2 8.5L-7.6 13.2 M0.9 -12.1L0.8 12.0 M6.7 -13.2L6.8 14.0 M-8.2 -3.5L-6.9 1.9 M-2.5 -3.4L-0.9 1.7 M2.9 -3.5L4.2 1.8" stroke="#a8a8a8" stroke-width="0.8" stroke-dasharray="1.2 2.3"/></g>
<g transform="translate(671.0 687.6) rotate(-80.5) translate(0 -56.0)"><path d="M-0.2 -14.6L-0.2 -10.1 M-5.0 -3.0L-4.8 9.2 M5.1 -3.0L5.1 8.0 M5.1 8.0L3.6 6.4 M-0.2 -9.1L-0.1 14.4" stroke="#2c2c2c" stroke-width="2.4"/><path d="M-8.0 -9.1L7.7 -8.8 M-4.7 -2.8L5.1 -3.0" stroke="#3a3a3a" stroke-width="1.5"/><path d="M-0.2 -14.6L-0.2 -10.1 M-5.0 -3.0L-4.8 9.2 M5.1 -3.0L5.1 8.0 M5.1 8.0L3.6 6.4 M-0.2 -9.1L-0.1 14.4" stroke="#a8a8a8" stroke-width="0.8" stroke-dasharray="1.2 2.3"/></g>
<g transform="translate(671.0 687.6) rotate(-52.0) translate(0 -54.5)"><path d="M-4.6 -13.1L-4.5 -1.4 M-4.4 -7.7L-8.0 -2.3 M-4.7 -7.9L-1.3 -3.5 M1.3 -14.3L-0.1 -9.2 M7.5 -11.6L7.2 -3.1 M3.8 -9.8L2.1 -4.9 M5.5 -9.8L4.2 -4.6 M-0.0 -3.0L-8.3 4.0 M-0.1 -3.1L8.3 4.0 M-0.2 1.4L0.0 13.6 M0.0 13.6L-1.5 11.8 M-5.9 5.0L-2.4 7.3 M-2.3 7.1L-6.8 13.3 M5.9 4.3L2.1 8.3 M2.0 7.4L7.6 13.4" stroke="#2c2c2c" stroke-width="2.4"/><path d="M-7.4 -12.7L-2.5 -14.1 M-8.6 -8.4L-0.5 -8.3 M1.0 -11.6L7.5 -11.6 M7.2 -3.1L5.3 -3.7" stroke="#3a3a3a" stroke-width="1.5"/><path d="M-4.6 -13.1L-4.5 -1.4 M-4.4 -7.7L-8.0 -2.3 M-4.7 -7.9L-1.3 -3.5 M1.3 -14.3L-0.1 -9.2 M7.5 -11.6L7.2 -3.1 M3.8 -9.8L2.1 -4.9 M5.5 -9.8L4.2 -4.6 M-0.0 -3.0L-8.3 4.0 M-0.1 -3.1L8.3 4.0 M-0.2 1.4L0.0 13.6 M0.0 13.6L-1.5 11.8 M-5.9 5.0L-2.4 7.3 M-2.3 7.1L-6.8 13.3 M5.9 4.3L2.1 8.3 M2.0 7.4L7.6 13.4" stroke="#a8a8a8" stroke-width="0.8" stroke-dasharray="1.2 2.3"/></g>
<g transform="translate(671.0 687.6) rotate(-26.5) translate(0 -54.0)"><path d="M4.9 -6.1L5.1 3.7 M-5.0 3.6L-5.0 -5.8 M-0.2 -13.9L0.1 14.3 M-0.2 4.2L-7.7 12.7 M0.2 4.3L8.3 12.7" stroke="#2c2c2c" stroke-width="2.4"/><path d="M-7.6 -9.5L7.6 -9.6 M-5.3 -6.2L4.9 -6.1 M5.1 3.7L-5.0 3.6 M-5.0 -1.3L5.0 -1.3" stroke="#3a3a3a" stroke-width="1.5"/><path d="M4.9 -6.1L5.1 3.7 M-5.0 3.6L-5.0 -5.8 M-0.2 -13.9L0.1 14.3 M-0.2 4.2L-7.7 12.7 M0.2 4.3L8.3 12.7" stroke="#a8a8a8" stroke-width="0.8" stroke-dasharray="1.2 2.3"/></g>
<g transform="translate(671.0 687.6) rotate(-4.7) translate(0 -53.8)"><path d="M-2.8 -11.3L-2.7 11.6 M-7.9 11.3L-8.2 -11.2 M7.3 -12.6L7.2 -0.8 M0.2 -12.7L-0.1 12.5 M-0.1 12.5L2.5 9.6 M7.3 1.8L3.1 6.2 M2.1 0.6L5.2 7.4 M5.2 7.4L8.5 12.8" stroke="#2c2c2c" stroke-width="2.4"/><path d="M-8.0 -11.4L-2.8 -11.3 M-2.7 11.6L-7.9 11.3 M-8.0 -4.1L-2.8 -4.1 M-7.9 3.8L-2.8 3.8 M0.2 -12.5L7.3 -12.6 M7.2 -0.8L0.2 -0.5 M0.0 -6.4L7.4 -6.4" stroke="#3a3a3a" stroke-width="1.5"/><path d="M-2.8 -11.3L-2.7 11.6 M-7.9 11.3L-8.2 -11.2 M7.3 -12.6L7.2 -0.8 M0.2 -12.7L-0.1 12.5 M-0.1 12.5L2.5 9.6 M7.3 1.8L3.1 6.2 M2.1 0.6L5.2 7.4 M5.2 7.4L8.5 12.8" stroke="#a8a8a8" stroke-width="0.8" stroke-dasharray="1.2 2.3"/></g>
<g transform="translate(671.0 687.6) rotate(20.0) translate(0 -53.0)"><path d="M-5.2 -14.1L-8.5 -6.2 M-5.2 -14.3L-1.7 -7.1 M-5.4 -4.2L-5.3 11.9 M-7.4 4.2L-6.6 8.4 M-2.2 4.3L-3.4 8.4 M3.3 -14.5L3.4 -11.8 M1.6 -9.8L2.0 -6.0 M5.7 -9.7L4.8 -5.9 M7.2 -2.2L6.9 5.6 M0.5 5.4L0.8 -2.2 M2.3 5.9L1.6 10.0 M1.6 10.0L-0.7 13.8 M4.8 5.9L5.1 12.6 M8.5 12.8L8.8 9.8" stroke="#2c2c2c" stroke-width="2.4"/><path d="M-7.6 -4.2L-2.5 -4.2 M-8.2 1.8L-1.8 1.9 M-8.4 12.6L-1.4 10.9 M0.2 -11.2L7.8 -10.9 M-0.6 -4.9L8.3 -5.0 M0.6 -2.6L7.2 -2.2 M6.9 5.6L0.5 5.4 M0.4 1.5L7.0 1.4 M5.1 12.6L8.5 12.8" stroke="#3a3a3a" stroke-width="1.5"/><path d="M-5.2 -14.1L-8.5 -6.2 M-5.2 -14.3L-1.7 -7.1 M-5.4 -4.2L-5.3 11.9 M-7.4 4.2L-6.6 8.4 M-2.2 4.3L-3.4 8.4 M3.3 -14.5L3.4 -11.8 M1.6 -9.8L2.0 -6.0 M5.7 -9.7L4.8 -5.9 M7.2 -2.2L6.9 5.6 M0.5 5.4L0.8 -2.2 M2.3 5.9L1.6 10.0 M1.6 10.0L-0.7 13.8 M4.8 5.9L5.1 12.6 M8.5 12.8L8.8 9.8" stroke="#a8a8a8" stroke-width="0.8" stroke-dasharray="1.2 2.3"/></g>
<g transform="translate(671.0 687.6) rotate(45.2) translate(0 -53.0)"><path d="M1.4 -14.3L-1.9 -2.8 M-1.9 -2.8L-7.6 6.5 M-2.8 -1.6L-2.6 14.2 M6.0 -1.8L5.7 13.4 M5.7 13.4L3.8 12.2" stroke="#444" stroke-width="2.0"/><path d="M-8.3 -7.6L7.9 -7.4 M-2.8 -2.0L6.0 -1.8 M-2.8 3.2L5.7 3.2 M-2.6 7.7L5.9 8.0" stroke="#555" stroke-width="1.3"/><path d="M1.4 -14.3L-1.9 -2.8 M-1.9 -2.8L-7.6 6.5 M-2.8 -1.6L-2.6 14.2 M6.0 -1.8L5.7 13.4 M5.7 13.4L3.8 12.2" stroke="#a8a8a8" stroke-width="0.8" stroke-dasharray="1.2 2.3"/></g>
<g transform="translate(671.0 687.6) rotate(71.5) translate(0 -54.0)"><path d="M-7.5 -13.4L-7.4 14.0 M-2.8 -12.4L-5.3 -4.3 M-5.1 -4.3L-2.6 0.4 M-2.6 0.4L-6.7 3.4 M7.5 -12.6L7.2 -0.6 M-0.1 -12.6L0.1 12.8 M0.1 12.8L2.5 9.8 M7.5 1.9L3.3 5.9 M2.0 0.4L5.0 7.3 M5.0 7.3L8.4 12.4" stroke="#444" stroke-width="2.0"/><path d="M-7.6 -12.5L-2.8 -12.4 M-0.1 -12.8L7.5 -12.6 M7.2 -0.6L0.2 -0.8 M0.2 -6.6L7.4 -6.4" stroke="#555" stroke-width="1.3"/><path d="M-7.5 -13.4L-7.4 14.0 M-2.8 -12.4L-5.3 -4.3 M-5.1 -4.3L-2.6 0.4 M-2.6 0.4L-6.7 3.4 M7.5 -12.6L7.2 -0.6 M-0.1 -12.6L0.1 12.8 M0.1 12.8L2.5 9.8 M7.5 1.9L3.3 5.9 M2.0 0.4L5.0 7.3 M5.0 7.3L8.4 12.4" stroke="#a8a8a8" stroke-width="0.8" stroke-dasharray="1.2 2.3"/></g>
<g transform="translate(671.0 687.6) rotate(98.8) translate(0 -55.5)"><path d="M-2.4 -12.4L-4.3 -5.3 M-4.3 -5.3L-8.2 0.5 M1.7 -13.2L4.6 -5.4 M4.6 -5.4L8.4 0.2 M0.6 -1.8L-2.3 5.6 M-2.3 5.6L-5.6 11.9 M2.9 3.6L7.3 13.8" stroke="#444" stroke-width="2.0"/><path d="M-5.6 11.9L5.7 10.1" stroke="#555" stroke-width="1.3"/><path d="M-2.4 -12.4L-4.3 -5.3 M-4.3 -5.3L-8.2 0.5 M1.7 -13.2L4.6 -5.4 M4.6 -5.4L8.4 0.2 M0.6 -1.8L-2.3 5.6 M-2.3 5.6L-5.6 11.9 M2.9 3.6L7.3 13.8" stroke="#a8a8a8" stroke-width="0.8" stroke-dasharray="1.2 2.3"/></g>
<g transform="translate(671.0 687.6) rotate(125.2) translate(0 -57.5)"><path d="M7.2 -12.1L7.2 12.4 M7.2 12.4L4.0 10.7 M2.5 0.5L2.8 10.0 M-5.8 10.3L-6.1 0.8" stroke="#444" stroke-width="2.0"/><path d="M-6.9 -12.1L7.2 -12.1 M-6.6 -5.4L3.1 -5.3 M-5.8 0.8L2.5 0.5 M2.8 10.0L-5.8 10.3" stroke="#555" stroke-width="1.3"/><path d="M7.2 -12.1L7.2 12.4 M7.2 12.4L4.0 10.7 M2.5 0.5L2.8 10.0 M-5.8 10.3L-6.1 0.8" stroke="#a8a8a8" stroke-width="0.8" stroke-dasharray="1.2 2.3"/></g>
<polygon points="666.9,663.2 674.9,679.8 693.2,677.5 679.9,690.3 687.8,707.0 671.5,698.3 658.0,710.9 661.3,692.8 645.1,683.9 663.4,681.3" fill="#777" stroke="#5a5a5a" stroke-width="0.8"/>
<clipPath id="starclip"><polygon points="666.9,663.2 674.9,679.8 693.2,677.5 679.9,690.3 687.8,707.0 671.5,698.3 658.0,710.9 661.3,692.8 645.1,683.9 663.4,681.3"/></clipPath>
<g clip-path="url(#starclip)"><path d="M691.4 693.0h1.2 M681.5 686.9h1.2 M688.0 690.8h1.2 M680.5 696.3h0.7 M663.8 666.8h0.9 M674.0 693.0h1.2 M645.2 701.5h1.2 M693.5 706.5h0.7 M669.6 702.1h0.9 M657.2 699.4h0.7 M689.0 665.4h1.2 M659.9 663.9h1.2 M662.3 694.2h1.2 M660.8 690.0h0.7 M650.2 672.5h0.9 M660.1 687.4h0.9 M655.4 710.5h0.9 M645.9 684.5h1.2 M665.1 707.4h0.7 M648.9 666.1h1.2 M676.4 693.2h0.9 M691.1 696.8h0.7 M646.3 661.8h0.9 M680.4 681.9h1.2 M651.3 678.2h0.9 M684.0 703.6h0.7 M691.9 676.1h0.9 M648.4 681.1h1.2 M689.4 675.6h0.7 M688.4 675.9h0.7 M661.4 700.3h0.9 M691.0 702.2h1.2 M673.6 697.6h0.7 M693.5 682.1h1.2 M670.2 707.2h1.2 M651.6 685.2h0.9 M695.8 674.6h1.2 M657.4 685.8h1.2 M648.9 686.6h0.9 M673.6 684.2h0.9 M673.5 673.8h0.7 M662.8 666.2h0.7 M691.1 699.1h0.9 M664.9 698.9h0.7 M670.9 690.3h0.9 M651.5 686.8h1.2 M659.1 674.0h0.9 M678.6 683.2h0.9 M651.6 682.9h0.9 M695.4 686.1h0.7 M689.5 710.2h0.7 M685.7 672.8h0.7 M681.5 703.9h0.9 M649.4 700.4h0.7 M678.6 676.8h0.7 M677.6 688.0h0.9 M660.6 708.8h0.7 M665.2 672.8h1.2 M659.5 677.4h0.7 M669.7 673.3h0.7 M661.0 662.7h0.9 M691.0 694.0h0.7 M656.8 663.3h0.9 M682.4 679.7h0.9 M688.9 665.0h0.9 M695.4 677.2h0.7 M650.7 692.8h1.2 M654.7 672.8h0.9 M652.6 681.3h0.7 M646.2 691.4h0.9 M668.4 697.2h0.9 M683.1 711.5h0.7 M683.8 663.2h1.2 M682.7 703.6h0.9 M659.5 679.2h0.7 M674.2 699.5h0.9 M649.6 696.9h0.7 M664.4 707.6h0.7 M646.6 682.1h1.2 M684.9 663.6h0.7 M658.4 699.0h1.2 M662.6 675.2h1.2 M661.5 675.4h0.7 M682.5 691.4h1.2 M650.6 697.4h0.9 M694.6 680.9h0.9 M693.3 670.7h1.2 M660.8 696.2h0.7 M669.0 700.8h1.2 M649.1 671.5h0.7 M670.0 688.8h0.7 M696.0 705.8h0.7 M666.9 711.0h0.9 M654.0 668.2h0.9 M673.0 700.3h0.7 M685.5 676.3h0.9 M658.5 683.6h0.7 M657.8 669.3h1.2 M696.6 687.0h0.7 M678.8 666.6h0.9 M690.9 673.2h0.9 M692.5 663.6h0.9 M695.6 690.8h0.7 M664.4 704.9h0.9 M694.2 666.9h1.2 M681.9 679.1h0.7 M697.0 663.5h1.2 M678.9 671.8h0.7 M654.6 677.2h0.7 M646.6 686.4h0.9 M679.5 669.3h1.2 M649.7 669.8h1.2 M661.0 709.3h0.9 M683.8 705.8h0.9 M678.5 681.1h0.9 M655.6 661.9h0.7 M675.0 679.8h0.7 M651.8 664.2h0.7 M674.8 708.0h1.2 M671.2 668.9h0.9 M650.7 686.1h0.7 M660.7 703.5h0.7 M676.6 693.4h0.7 M692.0 692.6h0.7 M666.0 703.9h0.9 M654.5 672.5h0.9 M651.4 674.0h1.2 M687.4 671.2h1.2 M688.6 667.5h1.2 M668.7 704.1h0.9 M667.1 694.5h0.9 M671.2 670.5h0.7 M668.2 692.5h0.9 M688.5 702.1h0.9 M664.0 701.7h1.2 M671.5 663.6h1.2 M685.4 687.2h0.7 M684.1 706.3h1.2 M696.8 698.2h0.7 M655.1 710.7h0.9 M680.7 697.7h0.7 M648.4 679.1h0.9 M692.1 684.4h0.9 M671.1 707.6h0.7 M661.6 663.4h0.7 M666.0 693.4h0.9 M686.2 674.8h1.2 M647.5 704.5h0.9 M658.1 688.4h0.9 M683.4 680.2h0.9 M662.2 665.7h0.7 M654.2 698.8h0.7 M678.2 710.8h1.2 M693.3 706.4h1.2 M660.1 692.9h0.9 M671.7 706.4h0.7 M646.2 661.7h0.9 M660.8 687.8h1.2 M652.0 679.9h0.9 M653.2 662.3h0.7 M678.2 705.2h0.9 M665.9 674.8h0.7 M675.9 690.5h1.2 M693.7 698.3h0.7 M672.6 681.9h0.7 M653.3 707.2h0.7 M652.4 671.6h1.2 M678.4 694.0h0.9 M648.3 692.9h1.2 M685.7 697.4h0.7 M649.2 694.4h0.7 M656.7 666.9h0.7 M693.1 708.7h0.9 M682.0 674.9h1.2 M695.5 676.4h0.7 M649.4 687.0h0.7 M655.5 669.6h0.9 M655.0 681.0h1.2 M692.9 710.7h1.2 M669.4 703.6h1.2 M657.2 705.8h0.7 M665.4 690.9h1.2 M650.8 692.7h0.7 M662.9 668.7h0.7 M678.0 696.5h1.2 M647.4 704.4h0.9 M691.3 664.9h1.2 M694.1 667.0h0.7 M649.5 699.2h1.2 M659.9 666.6h0.7 M661.6 682.8h0.7 M663.2 708.1h0.7 M685.0 691.7h0.9 M689.3 692.5h0.7 M685.2 678.9h1.2 M647.5 689.9h1.2 M653.9 661.7h0.7 M660.0 699.1h0.7 M681.2 702.9h0.9 M675.8 709.5h1.2 M687.4 708.5h0.7 M670.9 667.1h1.2 M674.2 666.8h0.9 M663.5 681.7h0.9 M691.2 662.9h0.7 M660.8 683.0h1.2 M657.1 684.6h1.2 M675.9 696.1h1.2 M672.1 705.0h0.9 M679.4 698.7h0.7 M675.1 667.9h0.9 M678.4 696.4h1.2 M688.0 692.5h1.2 M653.1 674.0h0.9 M662.1 671.1h1.2 M696.7 669.8h1.2 M686.3 698.3h0.9 M659.2 667.1h0.7 M646.8 681.6h0.9 M681.1 686.6h1.2 M676.4 681.8h1.2 M657.6 704.2h1.2 M689.0 695.0h1.2 M690.8 700.3h1.2 M678.4 684.3h0.9 M658.5 696.6h0.9 M677.7 674.1h0.9 M670.1 662.6h0.9 M691.5 678.0h0.7 M665.2 686.1h0.7 M682.2 709.2h0.7 M672.0 666.7h1.2 M671.6 693.6h0.9 M672.1 682.1h0.9 M671.7 708.2h1.2 M696.2 679.4h0.7 M645.7 682.5h0.9 M677.7 695.3h1.2 M665.8 709.3h0.7 M696.7 709.6h0.9 M687.1 693.3h0.9 M678.4 697.6h0.7 M669.3 676.3h1.2 M678.8 700.6h0.9 M681.6 696.0h0.9 M680.3 685.7h1.2 M660.7 685.6h0.9 M677.4 665.9h0.9 M648.0 703.0h0.9 M685.8 668.6h0.9 M655.9 665.2h0.9 M658.0 666.7h0.7 M663.0 669.2h0.9 M686.2 670.0h1.2 M691.9 689.0h1.2 M688.6 671.5h1.2 M679.9 667.4h0.7 M658.8 673.3h0.7 M669.3 668.8h0.9 M657.8 669.8h1.2 M669.3 689.7h1.2 M660.4 684.9h0.9 M654.4 679.6h1.2 M646.5 692.1h1.2 M671.6 685.8h0.7 M646.8 697.5h1.2 M664.0 685.3h1.2 M673.8 707.2h0.9 M647.7 676.1h0.9 M688.0 681.8h1.2 M695.7 694.3h0.7 M662.2 677.5h0.9 M685.8 663.6h1.2 M673.8 681.9h1.2 M647.4 702.7h0.9 M676.7 694.5h1.2 M652.6 695.3h1.2 M676.0 695.6h0.7 M684.7 666.7h0.7 M690.2 682.7h0.7 M690.3 668.5h0.9 M674.2 674.5h0.9 M667.4 693.7h0.7 M670.9 687.7h0.7 M692.8 683.9h0.7 M680.4 691.3h1.2 M673.5 665.7h0.9 M656.0 669.2h0.7 M651.3 709.9h0.7 M656.3 667.7h0.9 M668.4 698.8h0.7 M664.0 699.0h1.2 M660.2 689.5h0.9 M669.0 708.2h0.9 M645.6 662.3h1.2 M680.7 692.5h0.9 M694.8 703.3h1.2 M648.1 680.0h1.2 M652.5 701.5h0.9 M694.6 669.8h0.9 M694.1 700.8h1.2 M662.4 675.6h1.2 M662.3 691.9h0.7 M688.2 691.7h0.9 M664.6 695.8h1.2 M685.1 673.3h0.9 M658.9 669.5h0.7 M660.0 668.6h1.2 M680.6 707.3h0.9 M672.8 688.6h0.9 M693.4 673.3h1.2 M648.0 681.4h1.2 M686.2 684.6h0.7 M672.9 679.4h0.7 M691.0 687.7h0.9 M671.3 671.7h0.7 M660.1 690.5h0.9 M665.9 687.5h0.7 M664.5 666.9h1.2 M669.1 665.7h0.9 M676.6 666.3h0.7 M696.5 704.9h0.9 M667.1 708.9h1.2 M687.6 709.8h0.9 M664.7 663.0h0.7 M674.0 705.1h0.9 M689.9 693.6h0.7 M681.7 666.1h0.9 M671.3 670.7h0.7 M664.3 673.4h1.2 M693.9 664.6h1.2 M692.0 703.5h0.7 M678.6 710.9h0.7 M650.3 677.5h0.7 M675.7 683.7h1.2 M650.5 677.8h0.9 M653.8 673.5h0.7 M692.5 706.2h0.9 M653.2 703.2h0.7 M693.6 704.9h1.2 M693.1 680.9h0.7 M677.7 684.2h0.9 M677.7 668.7h0.7 M683.3 670.6h0.9 M658.9 682.2h0.7 M646.3 690.1h0.9 M650.7 684.4h0.9" stroke="#c6c6c6" stroke-width="1.0"/><path d="M684.1 690.0h0.7 M649.4 663.7h1.2 M672.6 673.8h0.9 M679.3 664.9h1.2 M683.5 710.4h0.9 M678.4 665.5h0.7 M670.1 685.9h1.2 M669.2 700.0h1.2 M695.3 684.1h0.9 M672.3 709.2h0.7 M670.9 705.4h0.9 M652.3 678.8h0.9 M693.9 671.4h0.7 M649.0 707.9h0.9 M658.0 674.9h1.2 M665.8 705.4h1.2 M684.1 693.8h0.9 M659.7 674.4h1.2 M665.5 670.0h0.7 M696.8 684.1h0.7 M664.2 702.1h0.7 M664.6 678.5h0.7 M686.1 704.0h0.7 M689.1 705.2h0.7 M665.4 707.9h1.2 M672.2 695.7h1.2 M685.7 673.2h0.7 M681.3 667.2h0.7 M645.1 688.5h0.9 M646.5 682.2h1.2 M658.4 695.0h0.9 M655.3 701.5h1.2 M657.0 672.7h0.9 M692.3 664.4h1.2 M647.7 664.6h0.9 M662.1 670.9h1.2 M668.0 667.0h0.7 M663.5 702.7h0.9 M661.8 698.5h0.9 M669.1 701.8h0.7 M647.3 698.9h1.2 M694.2 664.9h0.7 M692.5 702.3h0.7 M676.6 678.0h0.9 M657.9 664.8h0.7 M658.8 665.8h0.7 M677.3 695.3h1.2 M674.5 680.2h1.2 M654.8 664.8h0.9 M696.5 666.7h0.9 M657.1 664.1h1.2 M676.4 700.3h1.2 M664.2 668.7h0.7 M687.6 682.0h0.9 M648.3 666.7h0.9 M659.1 711.0h1.2 M666.7 704.8h0.9 M667.0 702.6h0.9 M678.3 707.1h0.7 M653.4 670.2h0.7 M695.7 685.7h0.7 M678.3 704.4h1.2 M693.8 669.4h0.9 M688.8 695.2h1.2 M678.7 677.0h0.7 M677.2 686.1h0.7 M650.6 668.0h0.9 M651.8 707.7h0.9 M694.4 668.4h0.7 M660.0 702.1h0.7 M653.3 706.4h0.9 M675.8 692.4h0.7 M680.3 706.4h0.7 M673.9 690.6h0.7 M696.5 690.5h0.9 M660.4 687.4h0.9 M645.1 663.3h0.7 M670.4 692.2h0.7 M656.7 690.8h1.2 M681.8 684.1h0.7 M647.9 702.6h0.9 M653.6 661.6h0.7 M645.6 689.1h0.7 M687.3 670.3h0.9 M664.5 683.4h0.9 M678.5 667.8h1.2 M680.3 695.9h1.2 M658.5 673.4h1.2 M657.4 707.0h1.2 M645.3 662.9h1.2 M692.4 668.8h0.7 M646.6 668.5h1.2 M655.4 709.3h1.2 M655.6 663.3h1.2 M686.2 693.9h0.9 M682.2 680.0h0.9 M686.0 663.2h1.2 M689.8 666.1h0.9 M645.2 686.1h0.9 M658.5 708.8h0.9 M684.9 686.1h1.2 M691.4 698.9h0.9 M671.1 680.6h1.2 M678.6 679.0h0.9 M669.1 696.1h0.9 M655.0 676.7h1.2 M676.4 679.0h0.7 M650.3 680.8h0.7 M659.6 705.9h0.9 M660.4 662.7h0.9 M674.8 699.1h0.9 M675.4 673.0h0.7 M657.6 681.6h1.2 M671.9 694.7h0.7 M647.0 688.8h0.7 M668.8 671.8h0.9 M655.9 695.8h0.9 M658.1 680.7h0.7 M658.8 672.8h1.2 M656.0 668.1h0.7 M663.4 693.5h0.9 M663.4 704.1h0.9 M686.5 679.5h1.2 M652.9 676.8h0.9 M677.9 662.3h0.7 M689.4 670.9h0.9 M676.6 700.7h1.2 M656.1 665.5h0.9 M669.6 689.5h0.9 M689.9 661.9h0.9 M666.8 709.6h0.7 M683.3 711.5h0.7 M651.6 666.3h1.2 M667.6 682.7h1.2 M696.2 705.2h0.9 M651.6 710.2h0.7 M647.6 676.6h0.7 M692.3 692.2h1.2 M647.1 693.3h1.2 M692.5 694.4h0.9 M654.6 663.3h0.7 M685.2 682.7h1.2 M696.0 685.4h0.9 M667.2 662.1h1.2 M645.9 697.6h0.7 M689.5 698.1h0.7 M692.5 664.2h0.7 M661.2 698.1h0.7 M682.8 685.1h0.7 M669.8 700.5h0.9 M695.6 696.8h1.2 M675.4 710.4h0.7 M659.7 661.7h0.9 M652.6 710.4h1.2 M686.5 671.6h1.2 M655.7 674.3h0.7 M657.1 690.6h0.9 M655.0 670.6h1.2 M657.8 707.7h0.9 M676.1 678.8h1.2 M675.5 672.3h0.9 M688.9 678.5h0.7 M670.3 703.9h0.7 M674.4 693.6h1.2 M656.5 663.5h0.9 M658.4 687.3h1.2 M693.8 695.4h0.9 M665.3 680.3h0.9 M682.3 671.4h0.7 M652.3 684.0h0.7 M661.8 673.3h0.7 M673.8 668.8h0.7 M662.4 670.0h0.9" stroke="#4a4a4a" stroke-width="0.9"/></g>
</g>
</svg>
</div>
</body></html>
